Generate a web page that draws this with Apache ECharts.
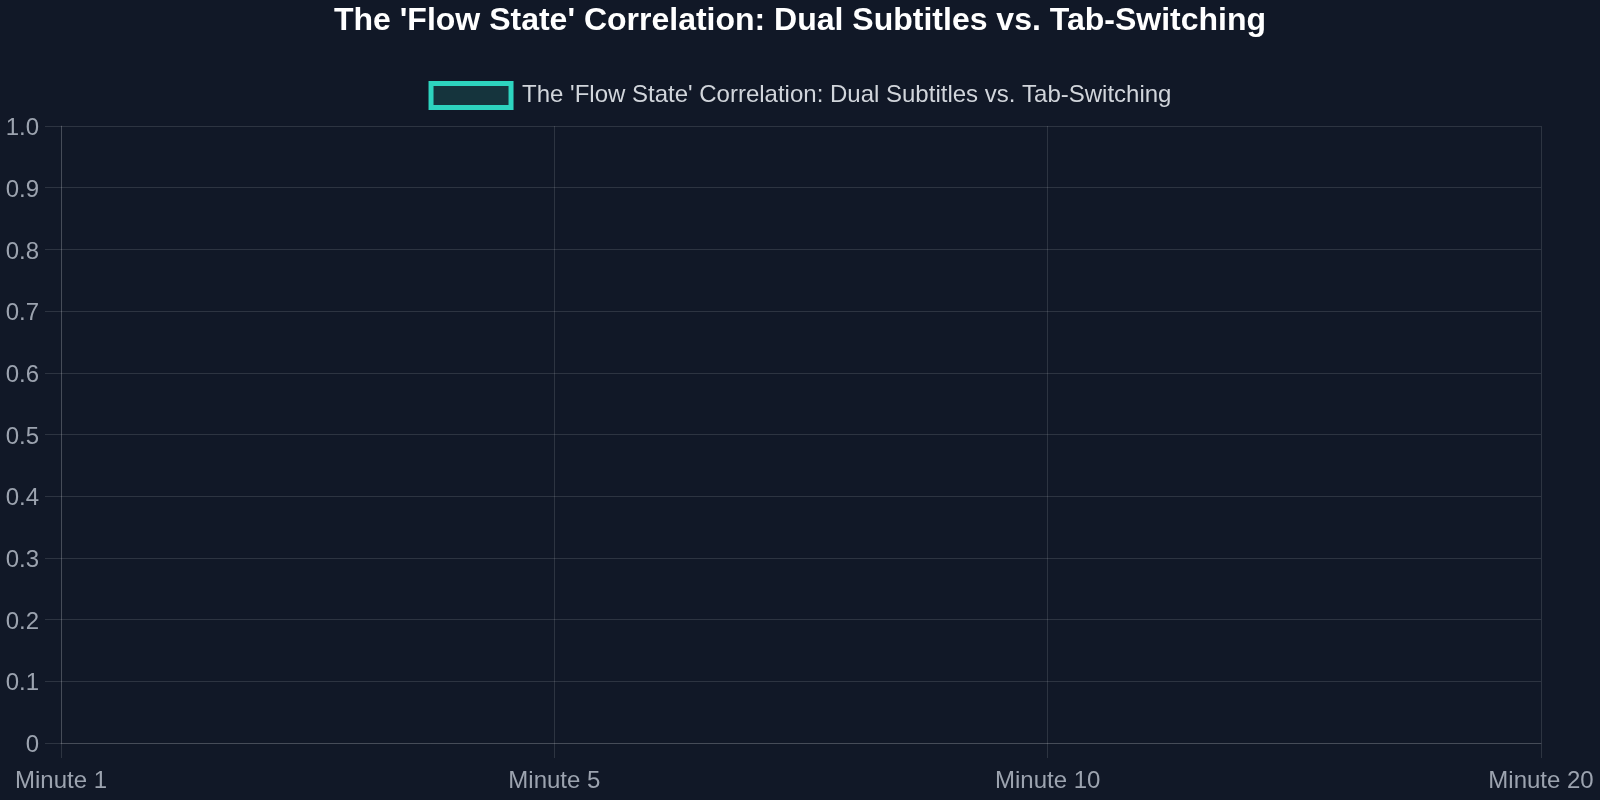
<!DOCTYPE html>
<html>
<head>
<meta charset="utf-8">
<script src="https://cdn.jsdelivr.net/npm/echarts@6/dist/echarts.min.js"></script>
<style>
html,body{margin:0;padding:0;background:#111827;}
#c{width:1600px;height:800px;}
</style>
</head>
<body>
<div id="c"></div>
<script>
const titleText = "The 'Flow State' Correlation: Dual Subtitles vs. Tab-Switching";
const seriesName = "The 'Flow State' Correlation: Dual Subtitles vs. Tab-Switching";
const categories = ['Minute 1', 'Minute 5', 'Minute 10', 'Minute 20'];
const values = [null, null, null, null];
const yMin = 0, yMax = 1, yStep = 0.1;

const font = '"Liberation Sans", Arial, Helvetica, sans-serif';
const gridColor = 'rgba(255,255,255,0.12)';
const chart = echarts.init(document.getElementById('c'));
chart.setOption({
  backgroundColor: '#111827',
  animation: false,
  textStyle: { fontFamily: font },
  title: {
    text: titleText, left: 'center', top: 0,
    textStyle: { color: '#ffffff', fontSize: 32, fontWeight: 'bold', fontFamily: font }
  },
  legend: {
    top: 76, left: 'center',
    icon: 'rect', itemWidth: 80, itemHeight: 24, itemGap: 10,
    textStyle: { color: '#d1d5db', fontSize: 24, fontFamily: font, padding: [0, 0, 0, 6] },
    itemStyle: { color: 'rgba(45,212,191,0.15)', borderColor: '#2dd4bf', borderWidth: 5 }
  },
  grid: { left: 61, right: 59, top: 126, bottom: 57, containLabel: false },
  xAxis: {
    type: 'category', data: categories, boundaryGap: false,
    axisLine: { show: true, lineStyle: { color: gridColor } },
    axisTick: { show: true, length: 15, lineStyle: { color: gridColor } },
    splitLine: { show: true, lineStyle: { color: gridColor, width: 1 } },
    axisLabel: { color: '#9ca3af', fontSize: 24, margin: 26, fontFamily: font }
  },
  yAxis: {
    type: 'value', min: yMin, max: yMax, interval: yStep,
    axisLine: { show: true, lineStyle: { color: gridColor } },
    axisTick: { show: true, length: 16, lineStyle: { color: gridColor } },
    splitLine: { show: true, lineStyle: { color: gridColor, width: 1 } },
    axisLabel: {
      color: '#9ca3af', fontSize: 24, margin: 22, fontFamily: font,
      formatter: v => '{a|' + (v === 0 ? '0' : v.toFixed(1)) + '}',
      rich: { a: { color: '#9ca3af', fontSize: 24, fontFamily: font, padding: [5, 0, 0, 0] } }
    }
  },
  series: [{
    name: seriesName, type: 'line', data: values,
    itemStyle: { color: 'rgba(45,212,191,0.15)', borderColor: '#2dd4bf', borderWidth: 5 },
    lineStyle: { color: '#2dd4bf' }
  }]
});
</script>
</body>
</html>
